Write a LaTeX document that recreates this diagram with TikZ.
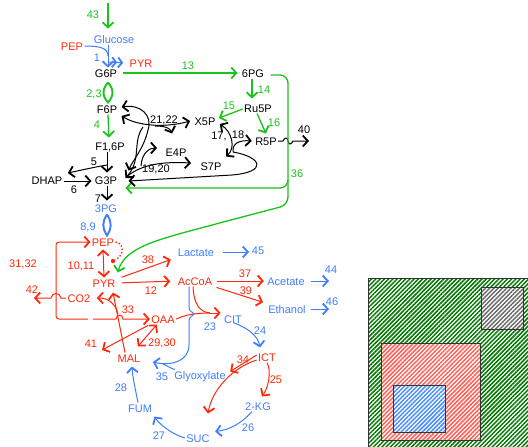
\documentclass[tikz,border=0pt]{standalone}
\usepackage{fontspec}
\setmainfont{Liberation Sans}
\usetikzlibrary{arrows.meta,patterns.meta}

\definecolor{mgreen}{RGB}{25,195,25}
\definecolor{mblue}{RGB}{65,125,255}
\definecolor{mred}{RGB}{255,40,10}
\definecolor{hgreen}{RGB}{0,120,0}
\definecolor{hred}{RGB}{255,95,85}
\definecolor{hblue}{RGB}{70,140,255}

\begin{document}
\begin{tikzpicture}[x=1pt, y=-1pt, line width=1pt,
  met/.style={font=\fontsize{11}{13}\selectfont, inner sep=1pt, text height=8pt, text depth=0pt},
  barb/.tip={Straight Barb[length=5pt,width=11pt,line width=1.8pt]},
  one/.style={-{barb}},
  two/.style={{barb}-{barb}},
  gl/.style={mgreen, line width=1.3pt},
  bl/.style={mblue},
  rl/.style={mred},
  kl/.style={black},
  lens/.style={line width=1.9pt, line join=miter},
  box/.style={draw=black!80, preaction={fill=white},
    pattern={Lines[angle=45,distance=3pt,line width=1.5pt]}}]
  \useasboundingbox (0,0) rectangle (528,447);

  % metabolites
  \foreach \n/\p/\t in {g6p/{106,73}/G6P, f6p/{107,109}/F6P, f16p/{110,146}/{F1,6P},
      dhap/{47,180}/DHAP, g3p/{106,180}/G3P, pg6/{253,73}/6PG, ru5p/{258,108}/Ru5P,
      x5p/{205,121}/X5P, r5p/{266,141}/R5P, e4p/{176,152}/E4P, s7p/{211,166}/S7P}
    \node[met] (\n) at (\p) {\t};
  \foreach \n/\p/\t in {glc/{114,39}/Glucose, pg3/{106,208}/3PG, lac/{196,252}/Lactate,
      ace/{286,281}/Acetate, eth/{287,309}/Ethanol, cit/{233,319}/CIT,
      glx/{200,375}/Glyoxylate, akg/{258,406}/2-KG, suc/{198,438}/SUC, fum/{140,408}/FUM}
    \node[met,mblue] (\n) at (\p) {\t};
  \foreach \n/\p/\t in {pep0/{72,46}/PEP, pyr0/{141,63}/PYR, pep/{103,242}/PEP,
      pyr/{104,283}/PYR, co2/{79,298}/CO2, accoa/{195,281}/AcCoA, oaa/{163,319}/OAA,
      mal/{129,358}/MAL, ict/{267,357}/ICT}
    \node[met,mred] (\n) at (\p) {\t};

  % reaction numbers
  \foreach \n/\p/\t in {r43/{93,14}/43, r2x3/{94,93}/{2,3}, r4/{97,124}/4, r13/{188,65}/13,
      r14/{264,89}/14, r15/{229,105}/15, r16/{274,122}/16, r36/{297,173}/36}
    \node[met,mgreen] (\n) at (\p) {\t};
  \foreach \n/\p/\t in {r1/{97,57}/1, r8x9/{88,226}/{8,9}, r45/{258,250}/45, r44/{331,269}/44,
      r46/{332,301}/46, r23/{210,326}/23, r24/{260,330}/24, r35/{162,376}/35,
      r26/{248,427}/26, r27/{159,435}/27, r28/{121,387}/28}
    \node[met,mblue] (\n) at (\p) {\t};
  \foreach \n/\p/\t in {r10x11/{81,265}/{10,11}, r31x32/{23,263}/{31,32}, r42/{32,289}/42,
      r38/{148,259}/38, r12/{151,290}/12, r33/{128,309}/33, r41/{91,343}/41,
      r29x30/{162,342}/{29,30}, r37/{245,273}/37, r39/{246,290}/39, r34/{243,359}/34,
      r25/{276,379}/25}
    \node[met,mred] (\n) at (\p) {\t};
  \foreach \n/\p/\t in {r5/{94,161}/5, r6/{74,189}/6, r7/{98,198}/7, r21x22/{164,119}/{21,22},
      r19x20/{156,168}/{19,20}, r17/{219,135}/{17,}, r18/{238,134}/18, r40/{304,129}/40}
    \node[met] (\n) at (\p) {\t};

  % glycolysis
  \coordinate (in43) at (108,3);
  \draw[gl,one,line width=1.8pt,shorten >=5pt] (in43) -- (in43 |- glc.north);
  \draw[bl,one] ([xshift=-6]glc.south) -- ([xshift=2]g6p.north);
  \coordinate (m1) at (108,56);
  \draw[bl] (pep0.east) .. controls (100,46) and (108,48) .. (m1);
  \draw[bl,-{Straight Barb[length=4pt,width=10pt,line width=1.8pt] Straight Barb[length=4pt,width=10pt,line width=1.8pt]},
    shorten >=5pt] (108,62) -- (pyr0.west);
  \draw[gl,lens] ([xshift=2,yshift=-4]g6p.south) .. controls +(-6,7) and +(-6,-7) .. ([xshift=1,yshift=1]f6p.north)
    .. controls +(6,-7) and +(6,7) .. ([xshift=2,yshift=-4]g6p.south);
  \draw[gl,one,shorten >=3pt] ([xshift=1]f6p.south) -- ([xshift=-1]f16p.north);
  \draw[kl,one,shorten >=2pt] ([xshift=-3]f16p.south) -- ([xshift=1]g3p.north);
  \coordinate (j5) at (107,165);
  \draw[kl,one] (j5) .. controls (95,167) and (82,170) .. ([xshift=4,yshift=7]dhap.east);
  \draw[kl,one,shorten >=2pt] ([yshift=-1]dhap.east) -- ([yshift=-1]g3p.west);
  \draw[kl,one,shorten >=2pt] ([xshift=1]g3p.south) -- ([xshift=1]pg3.north);
  \draw[bl,lens] ([xshift=1,yshift=-1]pg3.south) .. controls +(-5,8) and +(-5,-8) .. ([xshift=4,yshift=1]pep.north)
    .. controls +(5,-8) and +(5,8) .. ([xshift=1,yshift=-1]pg3.south);
  \draw[rl,two] ([yshift=-2]pep.south) -- (pyr.north);
  \node[circle,fill=mred,inner sep=0pt,minimum size=4.5pt] (pdot) at (113,261) {};
  \draw[rl,dotted,line width=1.4pt] (pep.east) .. controls (124,243) and (125,255) .. (pdot);

  % pyruvate branch
  \draw[rl,one,shorten <=5pt,shorten >=6pt] ([yshift=4]pyr.east) -- (lac.south west);
  \draw[rl,one,shorten <=5pt,shorten >=6pt] (pyr.east) -- (accoa.west);
  \draw[rl,one,shorten <=3pt,shorten >=2pt] (accoa.east) -- (ace.west);
  \draw[rl,one,shorten <=3pt,shorten >=4pt] (accoa.south east) -- (eth.north west);
  \coordinate (o45) at (249,252);
  \coordinate (o44) at (329,281);
  \coordinate (o46) at (329,309);
  \draw[bl,one,shorten <=7pt] (lac.east) -- (o45);
  \draw[bl,one,shorten <=5pt] (ace.east) -- (o44);
  \draw[bl,one,shorten <=4pt] (eth.east) -- (o46);

  % anaplerosis
  \coordinate (gapL) at (88,319);
  \coordinate (gapR) at (93,319);
  \draw[rl,{barb}-,rounded corners=3] (pep.west) -- (56,242) -- (56,319) -- (gapL);
  \draw[rl,one] (gapR) -- (116,319) .. controls (116,314) and (123,314) .. (123,319) -- (oaa.west);
  \coordinate (o42) at (34,298);
  \draw[rl,one] (co2.west) -- (61,298) .. controls (60,292) and (52,292) .. (51,298) -- (o42);
  \draw[rl,one] ([xshift=-4]mal.north) -- ([xshift=9,yshift=-4]pyr.south);
  \coordinate (j33) at (118,314);
  \draw[rl,one,shorten >=5pt] (j33) .. controls (115,303) and (108,298) .. (co2.east);
  \coordinate (o41) at (102,350);
  \draw[rl,one] ([xshift=-2,yshift=-1]oaa.south west) -- (o41);
  \draw[rl,two] ([xshift=-4,yshift=6]mal.north east) -- ([xshift=7]oaa.south west);

  % TCA cycle and glyoxylate shunt
  \coordinate (j23) at (210,313);
  \draw[rl] (oaa.east) .. controls (185,315) and (195,313) .. (j23);
  \draw[rl] ([xshift=-2]accoa.south) .. controls (194,305) and (200,312) .. (j23);
  \draw[rl,one] (j23) -- ([xshift=-2,yshift=6]cit.west);
  \draw[bl,one] ([xshift=-6]accoa.south) -- (189,308) .. controls (189,311) and (193,312) .. (194,314)
    .. controls (193,316) and (189,317) .. (189,320) -- (189,345)
    .. controls (189,362) and (170,366) .. ([xshift=11,yshift=-4]mal.east);
  \draw[bl] ([xshift=2]glx.north west) .. controls (170,368) and (166,365) .. (163,364);
  \draw[bl,one] ([yshift=2]cit.south) .. controls (248,328) and (258,336) .. ([xshift=-7,yshift=4]ict.north);
  \draw[rl,one] ([yshift=2]ict.west) -- ([xshift=3,yshift=-2]glx.north east);
  \draw[rl,one] ([yshift=-3]ict.west) .. controls (232,368) and (212,390) .. ([xshift=10,yshift=19]suc.north);
  \draw[rl,one] (ict.south) .. controls (272,372) and (268,388) .. ([xshift=4,yshift=4]akg.north);
  \draw[bl,one] ([xshift=-6]akg.south) .. controls (240,425) and (228,430) .. ([xshift=4,yshift=1]suc.north east);
  \draw[bl,one] (suc.west) .. controls (172,434) and (160,425) .. ([xshift=1,yshift=-3]fum.south east);
  \draw[bl,one] ([xshift=-2]fum.north) .. controls (136,392) and (133,380) .. ([xshift=3,yshift=-3]mal.south);

  % pentose phosphate and ED pathways
  \draw[gl,one,shorten <=4pt,shorten >=3pt] (g6p.east) -- (pg6.west);
  \draw[gl,one,shorten >=4pt] ([xshift=-1]pg6.south) -- ([xshift=-6]ru5p.north);
  \draw[gl,one] ([yshift=-1]ru5p.west) -- ([xshift=2,yshift=3]x5p.east);
  \draw[gl,one] ([xshift=-1]ru5p.south) -- ([yshift=2]r5p.north);
  \coordinate (o40) at (309,141);
  \draw[kl,one] (r5p.east) -- (283,141) .. controls (285,137) and (287,137) .. (288,141)
    .. controls (289,145) and (291,145) .. (293,141) -- (o40);
  \draw[gl,one,rounded corners=8,shorten <=5pt] ([yshift=-2]pg6.east) -- (288,75) -- (288,188)
    -- ([xshift=7,yshift=-8]g3p.east);
  \coordinate (c36) at (288,180);
  \coordinate (j36) at (227,221);
  \draw[gl,rounded corners=8] (c36) -- (288,205) -- (j36);
  \draw[gl,one] (j36) .. controls (165,238) and (125,245) .. ([xshift=1,yshift=5]pyr.north east);

  % transketolase / transaldolase
  \draw[kl,two] ([xshift=3,yshift=-7]f6p.east) .. controls (138,126) and (165,128) .. ([xshift=-3]x5p.west);
  \draw[kl,two] ([xshift=3,yshift=2]f6p.east) .. controls (140,104) and (153,115) .. (148,130)
    .. controls (144,148) and (133,160) .. ([xshift=10,yshift=4]g3p.north east);
  \coordinate (jtk) at (155,126);
  \draw[kl,one] (jtk) .. controls (165,126) and (170,128) .. ([xshift=8,yshift=13]e4p.north west);
  \coordinate (jtk2) at (143,127);
  \draw[kl,one] (jtk2) .. controls (132,142) and (142,160) .. ([xshift=7,yshift=2]g3p.east);
  \coordinate (jta) at (141,166);
  \draw[kl,one] (jta) .. controls (142,152) and (150,148) .. ([xshift=-7,yshift=4]e4p.west);
  \draw[kl,one] ([xshift=9,yshift=4]g3p.east) .. controls (145,162) and (170,162) .. ([xshift=-8,yshift=3]s7p.west);
  \draw[kl,two] ([xshift=3,yshift=-3]x5p.east) .. controls (232,132) and (236,148) .. ([xshift=15,yshift=4]s7p.north);
  \coordinate (jtk1) at (233,152);
  \draw[kl,one] (jtk1) .. controls (232,143) and (240,140) .. ([xshift=-2]r5p.west);
  \draw[kl,one] (jtk1) .. controls (262,157) and (268,172) .. (232,175) -- ([xshift=10,yshift=-1]g3p.east);

  % compartment key
  \begin{scope}
    \clip (0,0) rectangle (528,447);
    \draw[box,pattern color=hgreen] (368,278) rectangle (531,450);
    \draw[box,pattern color=black!60] (481,287) rectangle (523,329);
    \draw[box,pattern color=hred] (381,343) rectangle (480,440);
    \draw[box,pattern color=hblue] (393,385) rectangle (445,432);
  \end{scope}
\end{tikzpicture}
\end{document}
